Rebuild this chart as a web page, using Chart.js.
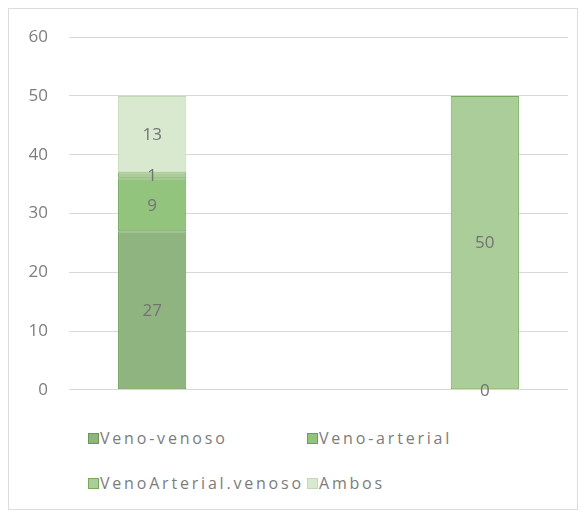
<!DOCTYPE html>
<html>
<head>
<meta charset="utf-8">
<script src="https://cdn.jsdelivr.net/npm/chart.js@4"></script>
<style>
  body { margin: 0; background: #fff; font-family: "Open Sans", sans-serif; }
  #frame { position: absolute; left: 8px; top: 8px; width: 568px; height: 500px; border: 1px solid #dcdcdc; }
  #wrap { position: absolute; left: 0; top: -3px; width: 568px; height: 415px; }
  #legend { position: absolute; left: 79px; top: 416px; width: 480px; }
  .item { position: absolute; display: flex; align-items: center; height: 26px; font-size: 16px; letter-spacing: 2.8px; color: #7c7c7c; white-space: nowrap; }
  .item span.box { width: 9px; height: 9px; margin-right: 1px; border: 1px solid; }
</style>
</head>
<body>
<div id="frame">
  <div id="wrap"><canvas id="barChart"></canvas></div>
  <div id="legend"></div>
</div>
<script>
const categories = ['', '', ''];
const venoVenoso = [27, null, 0];
const venoArterial = [9, null, null];
const venoArterialVenoso = [1, null, 50];
const ambos = [13, null, null];
const yTicks = [0, 10, 20, 30, 40, 50, 60];

const seriesNames = ['Veno-venoso', 'Veno-arterial', 'VenoArterial.venoso', 'Ambos'];
const fills = ['#90b480', '#93c47e', '#aacd99', '#d9e9d0'];
const borders = ['#679a4f', '#6aa052', '#74ab5a', '#c2d9b3'];
const seriesData = [venoVenoso, venoArterial, venoArterialVenoso, ambos];

// draws the value in the middle of each segment
const valueLabels = {
  id: 'valueLabels',
  afterDatasetsDraw(chart) {
    const c = chart.ctx;
    c.save();
    c.font = '17px "Open Sans"';
    c.fillStyle = '#737373';
    c.textAlign = 'center';
    c.textBaseline = 'middle';
    chart.data.datasets.forEach((ds, i) => {
      chart.getDatasetMeta(i).data.forEach((bar, j) => {
        const v = ds.data[j];
        if (v === null || v === undefined) return;
        const p = bar.getProps(['x', 'y', 'base'], true);
        c.fillText(String(v), p.x, (p.y + p.base) / 2 + 1);
      });
    });
    c.restore();
  }
};

const chart = new Chart(document.getElementById('barChart'), {
  type: 'bar',
  data: {
    labels: categories,
    datasets: seriesNames.map((name, i) => ({
      label: name,
      data: seriesData[i],
      backgroundColor: fills[i],
      borderColor: borders[i],
      borderWidth: 1,
      borderSkipped: false,
      categoryPercentage: 1,
      barPercentage: 0.41
    }))
  },
  options: {
    responsive: true,
    maintainAspectRatio: false,
    animation: false,
    layout: { padding: { top: 14, bottom: 10, left: 20, right: 9 } },
    plugins: {
      legend: { display: false },
      tooltip: { enabled: false }
    },
    scales: {
      x: { stacked: true, display: false },
      y: {
        stacked: true,
        min: 0,
        max: 60,
        afterBuildTicks: s => { s.ticks = yTicks.map(v => ({ value: v })); },
        afterFit: s => { s.width = 40; },
        border: { display: false },
        grid: { color: '#d9d9d9', drawTicks: false },
        ticks: { color: '#7d7d7d', padding: 21, font: { size: 17, family: 'Open Sans' } }
      }
    }
  },
  plugins: [valueLabels]
});

// legend built from the datasets, two columns like the original
const legendPos = [[0, 0], [219, 0], [0, 45], [219, 45]];
const legend = document.getElementById('legend');
chart.data.datasets.forEach((ds, i) => {
  const el = document.createElement('div');
  el.className = 'item';
  el.style.left = legendPos[i][0] + 'px';
  el.style.top = legendPos[i][1] + 'px';
  el.innerHTML = '<span class="box" style="background:' + ds.backgroundColor + ';border-color:' + ds.borderColor + '"></span>' + ds.label;
  legend.appendChild(el);
});
</script>
</body>
</html>
